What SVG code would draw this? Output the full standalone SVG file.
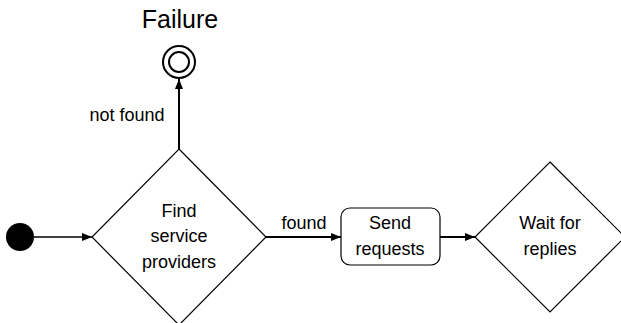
<svg xmlns="http://www.w3.org/2000/svg" width="621" height="323" viewBox="0 0 621 323">
<style>
text{font-family:"Liberation Sans",Arial,sans-serif;font-size:18px;fill:#000;text-anchor:middle}
.shape{fill:#fff;stroke:#000;stroke-width:1.2}
.edge{fill:none;stroke:#000;stroke-width:2}
</style>
<defs>
<marker id="ah" viewBox="0 0 10 8" refX="10" refY="4" markerWidth="10" markerHeight="8" markerUnits="userSpaceOnUse" orient="auto">
<path d="M0,0 L10,4 L0,8 Z" fill="#000"/>
</marker>
</defs>
<g id="connectors">
<line class="edge" x1="34" y1="237" x2="92" y2="237" marker-end="url(#ah)" style="stroke-width:1.6"/>
<line class="edge" x1="179" y1="149" x2="179" y2="79" marker-end="url(#ah)"/>
<text x="127" y="121">not found</text>
<line class="edge" x1="266" y1="237" x2="341" y2="237" marker-end="url(#ah)"/>
<text x="304" y="229">found</text>
<line class="edge" x1="440" y1="237" x2="475" y2="237" marker-end="url(#ah)"/>
</g>
<g id="initial">
<circle cx="20" cy="237" r="14" fill="#000"/>
</g>
<g id="failure">
<circle cx="179" cy="62" r="16" fill="#fff" stroke="#000" stroke-width="2"/>
<circle cx="179" cy="62" r="10" fill="#fff" stroke="#000" stroke-width="2"/>
<text x="180" y="28" style="font-size:25px">Failure</text>
</g>
<g id="find">
<polygon class="shape" points="179,149 266,237 179,325 92,237"/>
<text x="179" y="217">Find</text>
<text x="179" y="242">service</text>
<text x="179" y="268">providers</text>
</g>
<g id="send">
<rect class="shape" x="341" y="208" width="99" height="57" rx="9"/>
<text x="390" y="229">Send</text>
<text x="390" y="255">requests</text>
</g>
<g id="wait">
<polygon class="shape" points="550,162 625,237 550,312 475,237"/>
<text x="550" y="229">Wait for</text>
<text x="550" y="255">replies</text>
</g>
</svg>
